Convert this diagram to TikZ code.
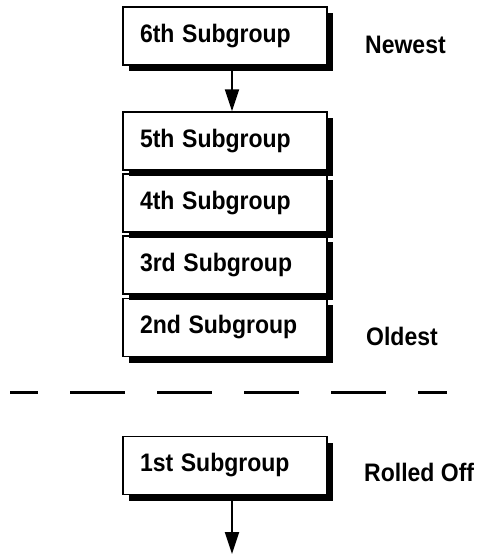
\documentclass[tikz,border=0pt]{standalone}
\usepackage{fontspec}
\setmainfont{Liberation Sans}
\usetikzlibrary{arrows.meta,shadows}
\newcommand{\tallt}[1]{\scalebox{1}[1.1]{#1}}
\begin{document}
\begin{tikzpicture}[x=1pt,y=-1pt,
  lbl/.style={font=\fontsize{23}{27}\selectfont\bfseries, inner sep=0pt},
  sgbox/.style={draw=black, line width=1.4pt, fill=white, minimum width=204pt, minimum height=58pt,
    text width=170pt, align=left, inner xsep=17pt, inner ysep=0pt,
    font=\fontsize{23}{27}\selectfont\bfseries,
    general shadow={fill=black, shadow xshift=6pt, shadow yshift=-6pt}},
  flow/.style={line width=2pt, -{Triangle[length=22pt,width=14pt]}},
  cutline/.style={line width=3pt, dash pattern=on 55pt off 32pt, dash phase=27pt}]
\useasboundingbox (0,0) rectangle (477,554);
\node[sgbox] (n6) at (225,36) {\tallt{6th Subgroup}};
\node[sgbox] (n2) at (225,327.5) {\tallt{2nd Subgroup}};
\node[sgbox] (n3) at (225,265) {\tallt{3rd Subgroup}};
\node[sgbox] (n4) at (225,203) {\tallt{4th Subgroup}};
\node[sgbox] (n5) at (225,141) {\tallt{5th Subgroup}};
\node[sgbox] (n1) at (225,465.5) {\tallt{1st Subgroup}};
\node[lbl, anchor=base west] (newest) at (365,53) {\tallt{Newest}};
\node[lbl, anchor=base west] (oldest) at (366,345) {\tallt{Oldest}};
\node[lbl, anchor=base west] (rolled) at (364,481) {\tallt{Rolled Off}};
\coordinate (dl) at (10,392);
\coordinate (dr) at (447,392);
\coordinate (bottom) at (232,554);
\draw[flow] ([xshift=7pt]n6.south) -- ([xshift=7pt]n5.north);
\draw[flow] ([xshift=7pt]n1.south) -- (bottom);
\draw[cutline] (dl) -- (dr);
\end{tikzpicture}
\end{document}
